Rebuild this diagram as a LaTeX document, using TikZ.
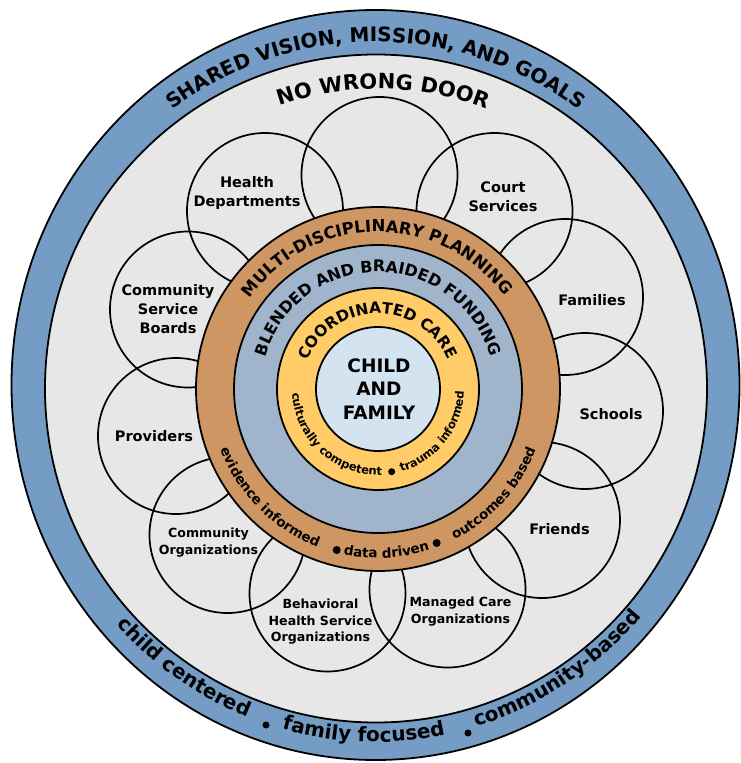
\documentclass[tikz,border=0pt]{standalone}
\usepackage{fontspec}
\usepackage{tikz}
\usetikzlibrary{decorations.text}
\setmainfont{DejaVu Sans}

\definecolor{bandblue}{RGB}{116,156,197}
\definecolor{paleground}{RGB}{231,231,231}
\definecolor{planbrown}{RGB}{205,150,98}
\definecolor{fundblue}{RGB}{160,181,204}
\definecolor{careyellow}{RGB}{255,204,104}
\definecolor{coreblue}{RGB}{212,227,240}

\newcommand{\ringsz}[1]{\bfseries\fontsize{#1}{#1}\selectfont}

\begin{document}
\begin{tikzpicture}[x=1pt, y=1pt,
            ring/.style={draw=black, line width=1.8pt},
            petal/.style={circle, draw=black, line width=1.7pt, minimum size=156pt, inner sep=0pt},
            petal_text/.style={align=center, font=\bfseries\fontsize{14.5}{19}\selectfont},
            petal_small/.style={align=center, font=\bfseries\fontsize{12.6}{16.7}\selectfont},
            sepdot/.style={circle, fill=black, inner sep=0pt, minimum size=#1},
            sepdot/.default=7pt,
            arc_text/.style={decorate, decoration={text along path, text align=center, text={#1}}}
        ]
\useasboundingbox (-378,-374) rectangle (363,389);

% Outer band
            \draw[ring, fill=bandblue] (-2.5,4) ellipse [x radius=364pt, y radius=375pt];
            \draw[ring, fill=paleground] (-2,0.5) ellipse [x radius=331pt, y radius=334pt];

% Band texts
            \path[arc_text={|\ringsz{20}|SHARED VISION, MISSION, AND GOALS}] ([shift={(-2.5,4)}]200:341pt and 343pt) arc [start angle=200, end angle=-20, x radius=341pt, y radius=343pt];
            \path[arc_text={|\ringsz{20}|child centered}] ([shift={(-2.5,4)}]195.5:349pt and 357pt) arc [start angle=195.5, end angle=275.5, x radius=349pt, y radius=357pt];
            \path[arc_text={|\ringsz{20}|family focused}] ([shift={(-2.5,4)}]228:349pt and 357pt) arc [start angle=228, end angle=308, x radius=349pt, y radius=357pt];
            \path[arc_text={|\ringsz{20}|community-based}] ([shift={(-2.5,4)}]263:349pt and 357pt) arc [start angle=263, end angle=343, x radius=349pt, y radius=357pt];
            \node[sepdot] (band dot1) at (-112,-336) {};
            \node[sepdot] (band dot2) at (90,-344) {};

            \path[arc_text={|\ringsz{21}|NO WRONG DOOR}] (199:300pt) arc [start angle=199, end angle=-21, radius=300pt];

% Petals
            \node[petal] (social) at (1.5,214) {};
            \node[petal] (court) at (116.5,178) {};
            \node[petal] (families) at (187,92) {};
            \node[petal] (schools) at (207,-22) {};
            \node[petal] (friends) at (164,-131) {};
            \node[petal] (managed) at (69.5,-200.5) {};
            \node[petal] (behavioral) at (-50.5,-204.5) {};
            \node[petal] (community org) at (-150.5,-146) {};
            \node[petal] (providers) at (-202,-47) {};
            \node[petal] (boards) at (-190,79.5) {};
            \node[petal] (health) at (-113,178) {};

% Petal labels
            \node[petal_text] (social label) at (2,155.5) {Social\\Services};
            \node[petal_text] (court label) at (125,192) {Court\\Services};
            \node[petal_text] (families label) at (214,89) {Families};
            \node[petal_text] (schools label) at (233,-25.5) {Schools};
            \node[petal_text] (friends label) at (181.5,-140) {Friends};
            \node[petal_small] (managed label) at (82.5,-222.5) {Managed Care\\Organizations};
            \node[petal_small] (behavioral label) at (-57.5,-232.7) {Behavioral\\Health Service\\Organizations};
            \node[petal_small] (community org label) at (-169.5,-153.3) {Community\\Organizations};
            \node[petal_text] (providers label) at (-224,-47) {Providers};
            \node[petal_text] (boards label) at (-210,80) {Community\\Service\\Boards};
            \node[petal_text] (health label) at (-131,196) {Health\\Departments};

% Rings
            \draw[ring, fill=planbrown] (0,0) circle [radius=182pt];
            \draw[ring, fill=fundblue] (0,0) circle [radius=144pt];
            \draw[ring, fill=careyellow] (0,0) circle [radius=101pt];
            \draw[ring, fill=coreblue] (0,0) circle [radius=62pt];

% Ring texts
            \path[arc_text={|\ringsz{16.5}|MULTI-DISCIPLINARY PLANNING}] (200.5:157pt) arc [start angle=200.5, end angle=-19.5, radius=157pt];
            \path[arc_text={|\ringsz{16}|BLENDED AND BRAIDED FUNDING}] (200:117pt) arc [start angle=200, end angle=-20, radius=117pt];
            \path[arc_text={|\ringsz{15.5}|COORDINATED CARE}] (200.5:75.5pt) arc [start angle=200.5, end angle=-19.5, radius=75.5pt];

            \path[arc_text={|\ringsz{13.5}|evidence informed}] (165:169pt) arc [start angle=165, end angle=285, radius=169pt];
            \path[arc_text={|\ringsz{13.5}|data driven}] (213:169pt) arc [start angle=213, end angle=333, radius=169pt];
            \path[arc_text={|\ringsz{13.5}|outcomes based}] (258:169pt) arc [start angle=258, end angle=378, radius=169pt];
            \node[sepdot=8pt] (plan dot1) at (-41.3,-161) {};
            \node[sepdot=8pt] (plan dot2) at (58.7,-154) {};

            \path[arc_text={|\ringsz{11.5}|culturally competent}] (167.75:86pt) arc [start angle=167.75, end angle=287.75, radius=86pt];
            \path[arc_text={|\ringsz{11.5}|trauma informed}] (262:86pt) arc [start angle=262, end angle=382, radius=86pt];
            \node[sepdot] (care dot) at (13.7,-82.7) {};

% Center
            \node[align=center, font=\bfseries\fontsize{18.5}{23.5}\selectfont] (core) at (1,0) {CHILD\\AND\\FAMILY};

\end{tikzpicture}
\end{document}
